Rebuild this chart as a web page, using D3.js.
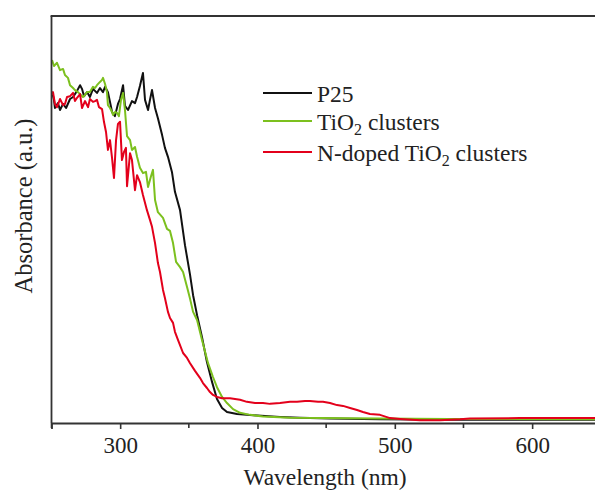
<!DOCTYPE html>
<html>
<head>
<meta charset="utf-8">
<script src="https://cdn.jsdelivr.net/npm/d3@7"></script>
<style>
  body { margin: 0; background: #fff; }
  svg text { font-family: "Liberation Serif", "Times New Roman", serif; fill: #222; }
</style>
</head>
<body>
<svg id="chart" width="595" height="493"></svg>
<script>
// Series: [wavelength (nm), absorbance (a.u.)]
const p25 = [
  [250.4, 0.813], [251.8, 0.794], [252.5, 0.774], [254.7, 0.786], [256.2, 0.769],
  [258.4, 0.784], [260.6, 0.774], [263.5, 0.796], [265.7, 0.801], [268.6, 0.816],
  [270.8, 0.830], [272.2, 0.821], [273.7, 0.803], [275.9, 0.813], [278.0, 0.801],
  [280.2, 0.821], [283.1, 0.811], [285.3, 0.823], [287.5, 0.813], [289.0, 0.826],
  [291.1, 0.813], [292.6, 0.789], [294.1, 0.764], [296.2, 0.754], [298.4, 0.784],
  [299.9, 0.796], [302.1, 0.830], [303.5, 0.779], [305.7, 0.769], [308.6, 0.791],
  [310.8, 0.786], [312.3, 0.801], [314.4, 0.828], [316.6, 0.860], [318.1, 0.794],
  [320.3, 0.769], [321.7, 0.794], [323.2, 0.818], [325.4, 0.774], [327.5, 0.749],
  [330.5, 0.708], [332.6, 0.676], [334.8, 0.654], [337.7, 0.617], [339.9, 0.568],
  [343.6, 0.523], [347.2, 0.437], [350.9, 0.364], [353.1, 0.314], [356.0, 0.265],
  [359.6, 0.211], [363.2, 0.150], [366.9, 0.101], [370.5, 0.059], [374.2, 0.037],
  [377.8, 0.027], [385.1, 0.022], [392.3, 0.020], [405.5, 0.017], [416.4, 0.015],
  [430.9, 0.013], [452.8, 0.011], [489.2, 0.009], [540.0, 0.008], [650.0, 0.008]
];

const tio2 = [
  [250.4, 0.892], [251.8, 0.877], [254.0, 0.885], [256.2, 0.867], [258.4, 0.870],
  [259.8, 0.855], [262.0, 0.848], [263.5, 0.830], [265.7, 0.823], [267.1, 0.818],
  [269.3, 0.813], [270.8, 0.808], [272.9, 0.801], [274.4, 0.806], [275.9, 0.813],
  [278.0, 0.813], [280.2, 0.826], [281.7, 0.823], [283.1, 0.830], [285.3, 0.838],
  [286.8, 0.843], [287.5, 0.848], [289.0, 0.833], [290.4, 0.813], [291.1, 0.781],
  [292.6, 0.774], [294.1, 0.764], [294.8, 0.757], [296.2, 0.764], [297.7, 0.762],
  [299.1, 0.754], [300.6, 0.794], [302.1, 0.811], [303.5, 0.769], [305.0, 0.705],
  [307.2, 0.695], [308.6, 0.671], [310.8, 0.678], [312.3, 0.654], [314.4, 0.627],
  [316.6, 0.614], [318.8, 0.617], [320.3, 0.580], [322.5, 0.607], [323.9, 0.622],
  [325.4, 0.548], [327.5, 0.518], [331.2, 0.504], [334.1, 0.477], [336.3, 0.472],
  [338.5, 0.442], [340.7, 0.396], [343.6, 0.383], [345.8, 0.371], [348.7, 0.334],
  [350.9, 0.305], [353.1, 0.273], [356.0, 0.253], [359.6, 0.204], [364.0, 0.147],
  [367.6, 0.113], [370.5, 0.088], [374.2, 0.064], [377.8, 0.049], [382.2, 0.034],
  [387.3, 0.025], [394.5, 0.020], [404.0, 0.016], [423.7, 0.013], [489.2, 0.011],
  [540.0, 0.010], [650.0, 0.009]
];

const ntio2 = [
  [250.4, 0.806], [251.1, 0.813], [252.5, 0.784], [254.0, 0.776], [256.2, 0.796],
  [258.4, 0.781], [259.8, 0.784], [261.3, 0.801], [263.5, 0.803], [265.7, 0.811],
  [267.1, 0.791], [268.6, 0.799], [270.8, 0.808], [272.2, 0.774], [274.4, 0.791],
  [276.6, 0.776], [278.0, 0.796], [280.2, 0.789], [281.7, 0.791], [283.1, 0.794],
  [284.6, 0.776], [286.8, 0.771], [288.2, 0.740], [289.7, 0.715], [291.1, 0.671],
  [292.6, 0.695], [294.1, 0.651], [295.5, 0.602], [297.0, 0.695], [298.4, 0.735],
  [299.9, 0.740], [301.3, 0.646], [302.8, 0.666], [304.2, 0.676], [305.0, 0.582],
  [307.2, 0.663], [308.6, 0.646], [310.8, 0.572], [312.3, 0.609], [314.4, 0.592],
  [316.6, 0.560], [319.5, 0.523], [321.7, 0.499], [323.2, 0.482], [325.4, 0.442],
  [327.5, 0.393], [329.0, 0.371], [331.2, 0.327], [332.6, 0.307], [334.8, 0.273],
  [336.3, 0.258], [338.5, 0.246], [339.9, 0.224], [342.1, 0.204], [345.8, 0.172],
  [348.7, 0.160], [350.9, 0.147], [354.5, 0.128], [358.1, 0.111], [360.3, 0.098],
  [363.2, 0.086], [365.4, 0.076], [367.6, 0.069], [370.5, 0.064], [374.2, 0.061],
  [380.0, 0.061], [387.3, 0.057], [392.3, 0.052], [398.2, 0.049], [404.0, 0.049],
  [409.1, 0.047], [416.4, 0.049], [423.7, 0.052], [428.8, 0.052], [434.6, 0.054],
  [438.2, 0.054], [444.1, 0.052], [447.7, 0.052], [452.8, 0.049], [457.9, 0.044],
  [462.3, 0.042], [467.4, 0.037], [472.5, 0.032], [476.8, 0.027], [481.9, 0.022],
  [489.2, 0.020], [496.5, 0.012], [503.8, 0.010], [518.3, 0.007], [532.9, 0.007],
  [547.5, 0.009], [554.7, 0.011], [591.1, 0.012], [650.0, 0.012]
];

const xTicks = [300, 400, 500, 600];
const xMinorTicks = [250, 350, 450, 550, 650];

const legendItems = [
  { name: "P25", sub: null, rest: null, data: p25, color: "#111111" },
  { name: "TiO", sub: "2", rest: " clusters", data: tio2, color: "#7cc01e" },
  { name: "N-doped TiO", sub: "2", rest: " clusters", data: ntio2, color: "#e3001b" }
];

const svg = d3.select("#chart");

// scales
const x = d3.scaleLinear().domain([250, 650]).range([51.5, 600.8]);
const y = d3.scaleLinear().domain([0, 1]).range([423, 16]);

const plot = svg.append("g");

// curves
const line = d3.line()
  .x(d => x(d[0]))
  .y(d => y(d[1]));

legendItems.forEach(s => {
  plot.append("path")
    .datum(s.data)
    .attr("fill", "none")
    .attr("stroke", s.color)
    .attr("stroke-width", 2)
    .attr("stroke-linejoin", "round")
    .attr("d", line);
});

// frame: left and top
svg.append("line")
  .attr("x1", x(250)).attr("x2", x(250))
  .attr("y1", y(1)).attr("y2", y(0))
  .attr("stroke", "#333").attr("stroke-width", 1.8);
svg.append("line")
  .attr("x1", x(250) - 0.9).attr("x2", 595)
  .attr("y1", y(1)).attr("y2", y(1))
  .attr("stroke", "#333").attr("stroke-width", 1.8);

// bottom axis
const xAxis = svg.append("g")
  .attr("transform", `translate(0,${y(0)})`)
  .call(d3.axisBottom(x).tickValues(xTicks).tickSize(6).tickPadding(8).tickFormat(d3.format("d")));

xAxis.select(".domain").attr("stroke", "#333").attr("stroke-width", 1.8);
xAxis.selectAll(".tick line").attr("stroke", "#333").attr("stroke-width", 1.6);
xAxis.selectAll(".tick text")
  .attr("font-size", 23)
  .attr("font-family", "Liberation Serif, serif")
  .attr("fill", "#222");

xAxis.selectAll(".minor")
  .data(xMinorTicks)
  .enter()
  .append("line")
  .attr("class", "minor")
  .attr("x1", d => x(d)).attr("x2", d => x(d))
  .attr("y1", 0).attr("y2", 5)
  .attr("stroke", "#333").attr("stroke-width", 1.6);

// axis titles
svg.append("text")
  .attr("x", 325)
  .attr("y", 485)
  .attr("text-anchor", "middle")
  .attr("font-size", 23.5)
  .text("Wavelength (nm)");

svg.append("text")
  .attr("transform", "translate(32,206) rotate(-90)")
  .attr("text-anchor", "middle")
  .attr("font-size", 24.5)
  .text("Absorbance (a.u.)");

// legend
const legendY = [93, 121, 152];
const legend = svg.append("g");

legendItems.forEach((s, i) => {
  const g = legend.append("g").attr("transform", `translate(0,${legendY[i]})`);
  g.append("line")
    .attr("x1", 263).attr("x2", 312)
    .attr("y1", 0).attr("y2", 0)
    .attr("stroke", s.color).attr("stroke-width", 2);
  const t = g.append("text")
    .attr("x", 317)
    .attr("y", 9)
    .attr("font-size", 23.5);
  t.append("tspan").text(s.name);
  if (s.sub) {
    t.append("tspan").attr("font-size", 16).attr("dy", 5).text(s.sub);
    t.append("tspan").attr("dy", -5).text(s.rest);
  }
});
</script>
</body>
</html>
